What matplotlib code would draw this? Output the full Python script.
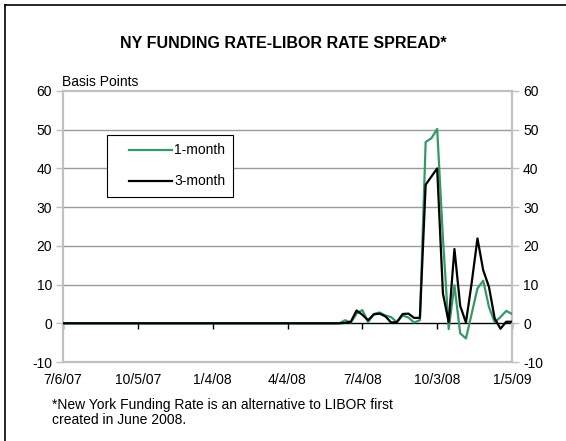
import matplotlib
matplotlib.use("Agg")
import matplotlib.pyplot as plt
from matplotlib.lines import Line2D
from matplotlib.patches import Rectangle
import numpy as np

plt.rcParams['font.family'] = ['Liberation Sans', 'DejaVu Sans']
plt.rcParams['axes.unicode_minus'] = False

# weekly observations, 7/6/07 through early January 2009 (basis points)
one_month = [
    0, 0, 0, 0, 0, 0, 0, 0, 0, 0, 0, 0, 0,
    0, 0, 0, 0, 0, 0, 0, 0, 0, 0, 0, 0, 0,
    0, 0, 0, 0, 0, 0, 0, 0, 0, 0, 0, 0, 0,
    0, 0, 0, 0, 0, 0, 0, 0, 0, 0, 0.8, 0.2, 2.5,
    3.4, 0.3, 2.4, 2.8, 2.0, 1.6, 0.3, 2.0, 1.5, 0.2, 0.8, 46.8, 47.8,
    50.2, 22.0, -1.5, 9.8, -2.6, -3.9, 2.5, 9.0, 11.0, 4.2, 0.3, 1.6, 3.2,
    2.4,
]
three_month = [
    0, 0, 0, 0, 0, 0, 0, 0, 0, 0, 0, 0, 0,
    0, 0, 0, 0, 0, 0, 0, 0, 0, 0, 0, 0, 0,
    0, 0, 0, 0, 0, 0, 0, 0, 0, 0, 0, 0, 0,
    0, 0, 0, 0, 0, 0, 0, 0, 0, 0, 0.1, 0.4, 3.3,
    2.2, 0.8, 2.3, 2.5, 1.8, 0.2, 0.3, 2.4, 2.5, 1.4, 1.4, 35.8, 37.9,
    40.0, 7.7, 0.3, 19.2, 4.5, 0.2, 10.5, 21.9, 13.7, 9.4, 1.2, -1.4, 0.4,
    0.4,
]
series_names = ['1-month', '3-month']
series_colors = ['#339966', 'black']
date_ticks = [0, 13, 26, 39, 52, 65, 78]
date_labels = ['7/6/07', '10/5/07', '1/4/08', '4/4/08', '7/4/08', '10/3/08', '1/5/09']
y_ticks = [-10, 0, 10, 20, 30, 40, 50, 60]

weeks = np.arange(len(one_month))
W, H = 566, 441

fig = plt.figure(figsize=(W / 100, H / 100), dpi=100)
ax = fig.add_axes([63 / W, 1 - 362 / H, 449 / W, 271 / H])

light = '#c0c0c0'
grid = '#9a9a9a'

for v in y_ticks[2:-1]:
    ax.axhline(v, color=grid, lw=1.0, zorder=1)

for vals, name, col, z in zip([one_month, three_month], series_names, series_colors, [3, 4]):
    ax.plot(weeks, vals, color=col, lw=1.6, label=name, zorder=z)

ax.set_xlim(0, 78)
ax.set_ylim(-10, 60)

# zero line carries the date tick marks
ax.spines['bottom'].set_position(('data', 0))
ax.spines['bottom'].set_color('black')
ax.spines['bottom'].set_linewidth(1.0)
ax.spines['bottom'].set_zorder(2)
ax.set_xticks(date_ticks)
ax.tick_params(axis='x', direction='out', length=4, width=1, color='black',
               labelbottom=False)

# date labels under the -10 edge
sec = ax.secondary_xaxis(0)
sec.set_xticks(date_ticks, date_labels)
sec.tick_params(length=0, pad=8, labelsize=10)
sec.spines['bottom'].set_color(light)
sec.spines['bottom'].set_linewidth(1.6)

for side in ['left', 'right', 'top']:
    ax.spines[side].set_color(light)
    ax.spines[side].set_linewidth(1.6)

ax.set_yticks(y_ticks)
ax.tick_params(axis='y', direction='out', length=5, width=1, color=light,
               left=True, right=True, labelleft=True, labelright=True,
               labelsize=10, pad=3)

# legend box with sample lines
fig.add_artist(Rectangle((107 / W, 1 - 197 / H), 126 / W, 62 / H,
                         transform=fig.transFigure, facecolor='white',
                         edgecolor='black', lw=0.8, zorder=10))
for row_y, name, col in zip([150, 181], series_names, series_colors):
    fig.add_artist(Line2D([129 / W, 172 / W], [1 - row_y / H, 1 - row_y / H],
                          color=col, lw=1.6, zorder=11))
    fig.text(174 / W, 1 - row_y / H, name, ha='left', va='center',
             fontsize=10, zorder=11)

fig.text(0.5, 1 - 43 / H, 'NY FUNDING RATE-LIBOR RATE SPREAD*',
         ha='center', va='center', fontsize=11.5, fontweight='bold')
fig.text(62 / W, 1 - 82 / H, 'Basis Points', ha='left', va='center', fontsize=10)
fig.text(52 / W, 1 - 405 / H,
         '*New York Funding Rate is an alternative to LIBOR first',
         ha='left', va='center', fontsize=10)
fig.text(52 / W, 1 - 420 / H, 'created in June 2008.',
         ha='left', va='center', fontsize=10)

# outer frame edges
fig.add_artist(Line2D([5 / W, 5 / W], [0, 1 - 5 / H], color='black', lw=1.2))
fig.add_artist(Line2D([5 / W, 1], [1 - 5 / H, 1 - 5 / H], color='black', lw=1.2))

fig.savefig('out.png', dpi=100)
